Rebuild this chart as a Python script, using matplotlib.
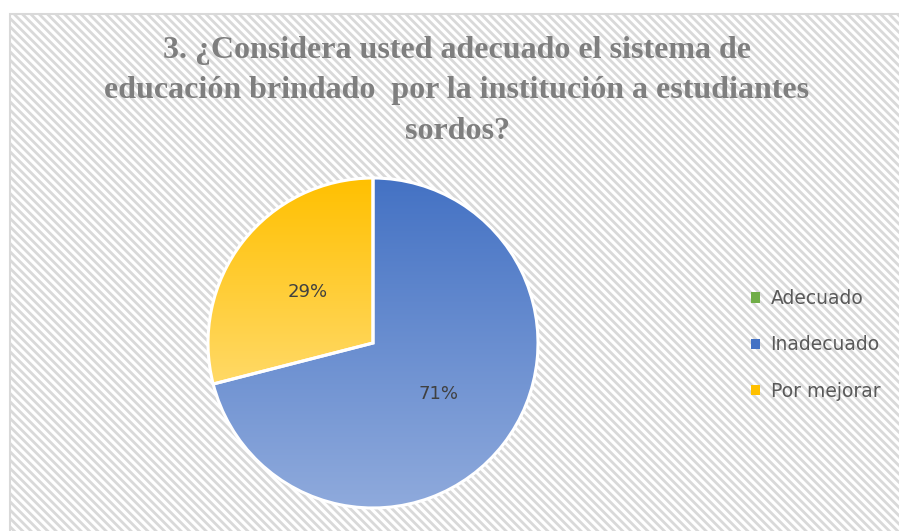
import numpy as np
import matplotlib
matplotlib.use('Agg')
import matplotlib.pyplot as plt
from matplotlib.patches import Rectangle, Patch
from matplotlib.colors import LinearSegmentedColormap

categories = ['Adecuado', 'Inadecuado', 'Por mejorar']
values = [0, 71, 29]
# top / bottom colours of each slice gradient
tops = ['#70AD47', '#4472C4', '#FFC000']
bottoms = ['#A9D18E', '#8FAADC', '#FFD966']
title = '3. ¿Considera usted adecuado el sistema de\neducación brindado  por la institución a estudiantes\nsordos?'

W, H = 899, 531
fig = plt.figure(figsize=(W / 100, H / 100), dpi=100)

plt.rcParams['hatch.color'] = '#EAEAEA'
plt.rcParams['hatch.linewidth'] = 2.0

# background frame with diagonal stripes
bg = fig.add_axes([0, 0, 1, 1])
bg.set_xlim(0, W)
bg.set_ylim(H, 0)
bg.axis('off')
bg.add_patch(Rectangle((10, 14), W + 20, H, facecolor='white', edgecolor='#D9D9D9',
                       linewidth=1.5, hatch='\\\\\\\\', zorder=0))

fig.text(457 / W, 1 - 36 / H, title, ha='center', va='top', family='Liberation Serif',
         weight='bold', fontsize=23, color='#7F7F7F', linespacing=1.52)

# pie
cx, cy, r = 373, 343, 165
pad = 1.04
ax = fig.add_axes([(cx - r * pad) / W, (H - cy - r * pad) / H, 2 * r * pad / W, 2 * r * pad / H])
ax.set_aspect('equal')
ax.axis('off')

wedges, texts, autotexts = ax.pie(values, startangle=90, counterclock=False, radius=1,
                                  colors=tops, autopct=lambda p: f'{p:.0f}%' if p > 0 else '',
                                  pctdistance=0.5,
                                  wedgeprops=dict(edgecolor='white', linewidth=2.2),
                                  textprops=dict(fontsize=13, color='#404040'))
for w, c0, c1, v in zip(wedges, tops, bottoms, values):
    if v == 0:
        continue
    ext = w.get_path().get_extents()
    cmap = LinearSegmentedColormap.from_list('g', [c0, c1])
    grad = np.linspace(0, 1, 256).reshape(-1, 1)
    im = ax.imshow(grad, cmap=cmap, aspect='auto', origin='upper',
                   extent=[ext.x0, ext.x1, ext.y0, ext.y1], zorder=1)
    im.set_clip_path(w)
    w.set_facecolor('none')
    w.set_zorder(2)
for t in autotexts:
    t.set_zorder(3)
ax.set_xlim(-pad, pad)
ax.set_ylim(-pad, pad)

handles = [Patch(facecolor=c, edgecolor='none') for c in tops]
fig.legend(handles, categories, loc='center left', bbox_to_anchor=(734 / W, 1 - 345 / H),
           frameon=False, fontsize=13.5, labelcolor='#595959', handlelength=0.5,
           handleheight=0.5, handletextpad=0.55, labelspacing=1.45)

fig.savefig('out.png', dpi=100)
